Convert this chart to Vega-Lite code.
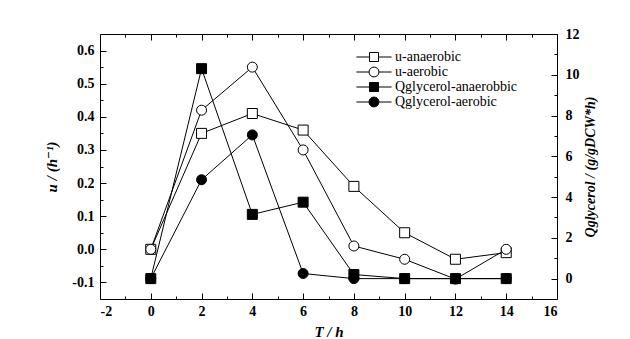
{
  "$schema": "https://vega.github.io/schema/vega-lite/v6.json",
  "width": 457,
  "height": 265,
  "autosize": "none",
  "padding": {"left": 100, "top": 34, "right": 73, "bottom": 40},
  "background": "white",
  "config": {
    "font": "Times New Roman, Liberation Serif, DejaVu Serif, serif",
    "view": {"stroke": "black", "strokeWidth": 1},
    "axis": {
      "domain": false, "grid": false, "tickColor": "black", "tickWidth": 1,
      "labelFont": "Times New Roman, Liberation Serif, DejaVu Serif, serif", "labelFontWeight": "bold", "labelFontSize": 14, "labelColor": "black",
      "titleFont": "Times New Roman, Liberation Serif, DejaVu Serif, serif", "titleFontStyle": "italic", "titleFontWeight": "bold", "titleFontSize": 15, "titleColor": "black"
    }
  },
  "datasets": {
    "u": [
      {"t": 0, "value": 0.0, "series": "u-anaerobic"},
      {"t": 2, "value": 0.35, "series": "u-anaerobic"},
      {"t": 4, "value": 0.41, "series": "u-anaerobic"},
      {"t": 6, "value": 0.36, "series": "u-anaerobic"},
      {"t": 8, "value": 0.19, "series": "u-anaerobic"},
      {"t": 10, "value": 0.05, "series": "u-anaerobic"},
      {"t": 12, "value": -0.03, "series": "u-anaerobic"},
      {"t": 14, "value": -0.01, "series": "u-anaerobic"},
      {"t": 0, "value": 0.0, "series": "u-aerobic"},
      {"t": 2, "value": 0.42, "series": "u-aerobic"},
      {"t": 4, "value": 0.55, "series": "u-aerobic"},
      {"t": 6, "value": 0.30, "series": "u-aerobic"},
      {"t": 8, "value": 0.01, "series": "u-aerobic"},
      {"t": 10, "value": -0.03, "series": "u-aerobic"},
      {"t": 12, "value": -0.09, "series": "u-aerobic"},
      {"t": 14, "value": 0.0, "series": "u-aerobic"}
    ],
    "q": [
      {"t": 0, "value": 0, "series": "Qglycerol-anaerobbic"},
      {"t": 2, "value": 10.3, "series": "Qglycerol-anaerobbic"},
      {"t": 4, "value": 3.15, "series": "Qglycerol-anaerobbic"},
      {"t": 6, "value": 3.75, "series": "Qglycerol-anaerobbic"},
      {"t": 8, "value": 0.2, "series": "Qglycerol-anaerobbic"},
      {"t": 10, "value": 0, "series": "Qglycerol-anaerobbic"},
      {"t": 12, "value": 0, "series": "Qglycerol-anaerobbic"},
      {"t": 14, "value": 0, "series": "Qglycerol-anaerobbic"},
      {"t": 0, "value": 0, "series": "Qglycerol-aerobic"},
      {"t": 2, "value": 4.85, "series": "Qglycerol-aerobic"},
      {"t": 4, "value": 7.05, "series": "Qglycerol-aerobic"},
      {"t": 6, "value": 0.25, "series": "Qglycerol-aerobic"},
      {"t": 8, "value": 0, "series": "Qglycerol-aerobic"},
      {"t": 10, "value": 0, "series": "Qglycerol-aerobic"},
      {"t": 12, "value": 0, "series": "Qglycerol-aerobic"},
      {"t": 14, "value": 0, "series": "Qglycerol-aerobic"}
    ]
  },
  "layer": [
    {
      "data": {"name": "u"},
      "encoding": {
        "x": {"field": "t", "type": "quantitative", "scale": {"domain": [-2, 16], "nice": false, "zero": false},
          "axis": {"orient": "bottom", "values": [-2, 0, 2, 4, 6, 8, 10, 12, 14, 16], "tickSize": -6, "labelPadding": 11,
            "title": "T / h", "titlePadding": 6, "labelExpr": "replace(datum.label, '−', '-')"}},
        "y": {"field": "value", "type": "quantitative", "scale": {"domain": [-0.15, 0.65], "nice": false, "zero": false},
          "axis": {"orient": "left", "values": [-0.1, 0, 0.1, 0.2, 0.3, 0.4, 0.5, 0.6], "format": ".1f", "tickSize": -6, "labelPadding": 12,
            "title": "u / (h⁻¹)", "titlePadding": 12, "labelExpr": "replace(datum.label, '−', '-')"}}
      },
      "layer": [
        {"mark": {"type": "line", "color": "black", "strokeWidth": 1}, "encoding": {"detail": {"field": "series"}}},
        {"mark": {"type": "point", "filled": true, "stroke": "black", "strokeWidth": 1, "opacity": 1, "size": 100},
          "encoding": {
            "shape": {"field": "series", "type": "nominal", "legend": null,
              "scale": {"domain": ["u-anaerobic", "u-aerobic"], "range": ["square", "circle"]}},
            "fill": {"field": "series", "type": "nominal", "legend": null,
              "scale": {"domain": ["u-anaerobic", "u-aerobic"], "range": ["white", "white"]}}
          }}
      ]
    },
    {
      "data": {"name": "q"},
      "encoding": {
        "x": {"field": "t", "type": "quantitative", "scale": {"domain": [-2, 16], "nice": false, "zero": false},
          "axis": {"orient": "top", "values": [-2, 0, 2, 4, 6, 8, 10, 12, 14, 16], "tickSize": -6, "labels": false, "title": null}},
        "y": {"field": "value", "type": "quantitative", "scale": {"domain": [-1, 12], "nice": false, "zero": false},
          "axis": {"orient": "right", "values": [0, 2, 4, 6, 8, 10, 12], "tickSize": -6, "labelPadding": 14,
            "titleFontSize": 14, "title": "Qglycerol / (g/gDCW*h)", "titleAngle": 270, "titlePadding": 18}}
      },
      "layer": [
        {"mark": {"type": "line", "color": "black", "strokeWidth": 1}, "encoding": {"detail": {"field": "series"}}},
        {"mark": {"type": "point", "filled": true, "stroke": "black", "strokeWidth": 1, "opacity": 1, "size": 100},
          "encoding": {
            "shape": {"field": "series", "type": "nominal", "legend": null,
              "scale": {"domain": ["Qglycerol-anaerobbic", "Qglycerol-aerobic"], "range": ["square", "circle"]}},
            "fill": {"field": "series", "type": "nominal", "legend": null,
              "scale": {"domain": ["Qglycerol-anaerobbic", "Qglycerol-aerobic"], "range": ["black", "black"]}}
          }}
      ]
    },
    {
      "data": {"name": "u"},
      "mark": {"type": "point", "opacity": 0},
      "encoding": {
        "x": {"field": "t", "type": "quantitative", "scale": {"domain": [-2, 16], "nice": false, "zero": false},
          "axis": {"orient": "bottom", "values": [-1, 1, 3, 5, 7, 9, 11, 13, 15], "tickSize": -3, "labels": false, "title": null}},
        "y": {"field": "value", "type": "quantitative", "scale": {"domain": [-0.15, 0.65], "nice": false, "zero": false},
          "axis": {"orient": "left", "values": [-0.05, 0.05, 0.15, 0.25, 0.35, 0.45, 0.55], "tickSize": -3, "labels": false, "title": null}}
      }
    },
    {
      "data": {"name": "q"},
      "mark": {"type": "point", "opacity": 0},
      "encoding": {
        "x": {"field": "t", "type": "quantitative", "scale": {"domain": [-2, 16], "nice": false, "zero": false},
          "axis": {"orient": "top", "values": [-1, 1, 3, 5, 7, 9, 11, 13, 15], "tickSize": -3, "labels": false, "title": null}},
        "y": {"field": "value", "type": "quantitative", "scale": {"domain": [-1, 12], "nice": false, "zero": false},
          "axis": {"orient": "right", "values": [1, 3, 5, 7, 9, 11], "tickSize": -3, "labels": false, "title": null}}
      }
    },
    {
      "data": {"name": "u"},
      "transform": [{"filter": "false"}],
      "mark": {"type": "point", "filled": true, "stroke": "black", "strokeWidth": 1, "strokeOpacity": 1, "opacity": 1},
      "encoding": {
        "shape": {"field": "series", "type": "nominal",
          "scale": {"domain": ["u-anaerobic", "u-aerobic", "Qglycerol-anaerobbic", "Qglycerol-aerobic"],
            "range": ["M-3.9,0H-1M1,0H3.9M-1,-1H1V1H-1Z", "M-3.9,0H-1.1M1.1,0H3.9M1.1,0A1.1,1.1 0 1,1 -1.1,0A1.1,1.1 0 1,1 1.1,0Z", "M-3.9,0H-1M1,0H3.9M-1,-1H1V1H-1Z", "M-3.9,0H-1.1M1.1,0H3.9M1.1,0A1.1,1.1 0 1,1 -1.1,0A1.1,1.1 0 1,1 1.1,0Z"]},
          "legend": {"orient": "none", "legendX": 267, "legendY": 16, "title": null, "padding": 0,
            "labelFont": "Times New Roman, Liberation Serif, DejaVu Serif, serif", "labelFontSize": 14, "labelColor": "black", "labelOffset": 14,
            "symbolSize": 81, "symbolStrokeWidth": 1, "rowPadding": 1,
            "encode": {"symbols": {"stroke": {"value": "black"}, "strokeWidth": {"value": 1}, "strokeOpacity": {"value": 1}}}}},
        "fill": {"field": "series", "type": "nominal",
          "scale": {"domain": ["u-anaerobic", "u-aerobic", "Qglycerol-anaerobbic", "Qglycerol-aerobic"], "range": ["white", "white", "black", "black"]},
          "legend": {"orient": "none", "legendX": 267, "legendY": 16, "title": null, "padding": 0,
            "labelFont": "Times New Roman, Liberation Serif, DejaVu Serif, serif", "labelFontSize": 14, "labelColor": "black", "labelOffset": 14,
            "symbolSize": 81, "symbolStrokeWidth": 1, "rowPadding": 1,
            "encode": {"symbols": {"stroke": {"value": "black"}, "strokeWidth": {"value": 1}, "strokeOpacity": {"value": 1}}}}}
      }
    }
  ],
  "resolve": {"scale": {"y": "independent", "shape": "independent", "fill": "independent"}, "axis": {"x": "independent", "y": "independent"}}
}
